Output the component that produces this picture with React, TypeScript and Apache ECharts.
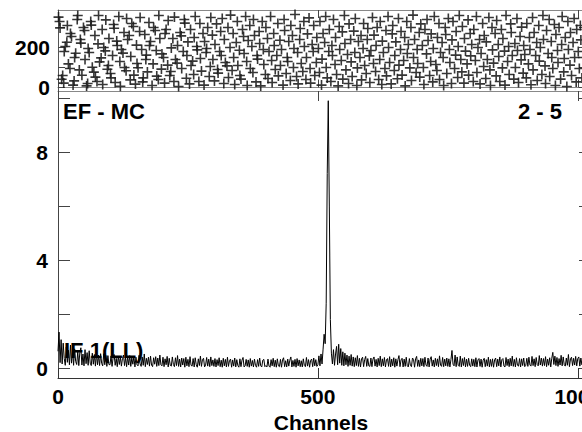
import React, { useEffect, useRef } from "react";
import * as echarts from "echarts";

// Bottom panel: counts per channel (every 2nd channel, starting at channel 0)
const channelStep = 2;
const spectrum = [
  0.62,1.33,0.20,1.05,0.15,0.92,0.35,0.10,0.78,0.21,0.66,0.12,0.85,0.18,0.62,0.10,0.71,0.24,0.13,0.60,0.09,0.58,0.75,0.11,0.52,0.08,0.68,0.16,0.57,0.10,0.64,0.18,0.09,0.55,0.14,0.50,0.07,0.56,0.12,0.48,0.09,0.53,0.17,0.08,0.53,0.12,0.47,0.06,0.46,0.13,
  0.12,0.45,0.06,0.38,0.50,0.10,0.36,0.05,0.44,0.13,0.41,0.07,0.35,0.48,0.09,0.39,0.05,0.42,0.11,0.46,0.06,0.37,0.14,0.43,0.04,0.40,0.12,0.08,0.47,0.15,0.06,0.41,0.10,0.52,0.05,0.36,0.13,0.40,0.07,0.44,0.11,0.05,0.38,0.14,0.42,0.06,0.37,0.09,0.48,0.12,
  0.08,0.40,0.05,0.34,0.12,0.43,0.04,0.36,0.10,0.07,0.41,0.13,0.05,0.38,0.09,0.46,0.06,0.33,0.04,0.37,0.11,0.35,0.03,0.40,0.08,0.32,0.05,0.42,0.10,0.07,0.35,0.04,0.38,0.12,0.03,0.34,0.09,0.44,0.06,0.32,0.36,0.04,0.11,0.39,0.07,0.33,0.05,0.41,0.09,0.30,
  0.06,0.35,0.04,0.31,0.09,0.38,0.05,0.29,0.03,0.36,0.08,0.32,0.04,0.40,0.06,0.28,0.33,0.03,0.30,0.07,0.37,0.04,0.31,0.09,0.03,0.34,0.05,0.29,0.39,0.04,0.08,0.32,0.06,0.30,0.03,0.35,0.07,0.28,0.04,0.33,0.09,0.03,0.31,0.06,0.37,0.08,0.04,0.29,0.32,0.05,
  0.09,0.04,0.33,0.07,0.03,0.31,0.08,0.36,0.05,0.29,0.03,0.34,0.08,0.05,0.32,0.03,0.30,0.38,0.05,0.27,0.04,0.33,0.07,0.29,0.41,0.04,0.28,0.06,0.32,0.03,0.35,0.08,0.30,0.05,0.27,0.04,0.34,0.09,0.05,0.39,0.07,0.31,0.03,0.28,0.33,0.05,0.37,0.08,0.31,0.06,
  0.12,0.45,0.08,0.52,0.15,0.70,1.25,0.90,2.40,7.20,9.90,6.00,1.80,0.55,0.15,0.68,0.10,0.52,0.80,0.12,0.88,0.18,0.72,0.10,0.60,0.08,0.55,0.12,0.48,0.06,0.44,0.10,0.50,0.07,0.41,0.05,0.38,0.09,0.46,0.06,0.36,0.04,0.34,0.40,0.05,0.31,0.43,0.06,0.35,0.08,
  0.06,0.37,0.05,0.33,0.41,0.07,0.32,0.04,0.36,0.09,0.44,0.05,0.34,0.08,0.39,0.04,0.31,0.35,0.06,0.42,0.04,0.33,0.08,0.38,0.03,0.34,0.07,0.31,0.46,0.05,0.30,0.36,0.04,0.33,0.06,0.40,0.08,0.04,0.35,0.10,0.05,0.37,0.32,0.03,0.34,0.43,0.06,0.30,0.05,0.36,
  0.08,0.35,0.05,0.40,0.11,0.06,0.37,0.04,0.33,0.42,0.07,0.30,0.04,0.36,0.09,0.34,0.05,0.45,0.11,0.06,0.39,0.05,0.33,0.08,0.37,0.06,0.34,0.04,0.31,0.65,0.14,0.08,0.48,0.05,0.41,0.10,0.06,0.44,0.04,0.35,0.09,0.39,0.04,0.33,0.06,0.36,0.10,0.05,0.34,0.07,
  0.32,0.05,0.38,0.04,0.30,0.35,0.06,0.33,0.03,0.29,0.36,0.05,0.31,0.07,0.40,0.04,0.32,0.06,0.34,0.03,0.30,0.37,0.05,0.33,0.08,0.41,0.04,0.31,0.35,0.07,0.04,0.39,0.09,0.33,0.05,0.36,0.08,0.44,0.06,0.32,0.04,0.38,0.10,0.07,0.35,0.04,0.34,0.09,0.37,0.05,
  0.10,0.36,0.06,0.40,0.11,0.07,0.43,0.09,0.34,0.05,0.39,0.12,0.08,0.46,0.11,0.37,0.07,0.35,0.09,0.42,0.05,0.33,0.10,0.38,0.04,0.36,0.58,0.13,0.44,0.09,0.39,0.06,0.35,0.11,0.47,0.08,0.41,0.12,0.07,0.37,0.10,0.50,0.05,0.34,0.40,0.09,0.36,0.11,0.43,0.08,
  0.35,0.41,0.07,0.37,0.12,0.39,
];

// Top panel: scatter of "+" markers (channel, value)
const markerChannels = [
  1,3,4,7,9,11,12,14,17,18,20,23,24,26,29,31,32,34,37,38,41,43,44,46,49,51,52,55,57,58,60,63,64,66,69,71,72,75,77,78,80,83,85,86,88,91,92,95,97,98,
  101,102,105,107,108,110,113,114,117,119,120,122,125,127,128,131,132,134,137,139,140,142,145,146,149,151,152,154,157,158,161,163,164,167,169,170,172,175,176,178,181,183,184,187,189,190,193,194,196,199,
  200,203,205,206,208,211,212,215,217,218,221,223,224,226,229,230,232,235,237,238,241,243,244,247,248,250,253,255,256,259,261,262,264,267,268,271,273,274,276,279,281,282,285,286,288,291,293,294,297,298,
  301,302,305,307,308,311,313,314,316,319,320,322,325,327,328,331,332,335,337,338,340,343,345,346,349,350,352,355,357,358,361,363,364,366,369,370,373,375,376,378,381,383,384,387,388,390,393,395,396,399,
  400,403,404,406,409,411,412,415,416,418,421,423,424,427,428,430,433,435,436,439,441,442,444,447,448,451,453,454,456,459,461,462,465,466,468,471,473,474,477,478,480,483,485,486,489,491,492,494,497,498,
  501,503,504,507,508,510,513,515,516,518,521,522,525,527,528,530,533,534,536,539,541,542,545,547,548,551,552,554,557,559,560,563,564,566,569,571,572,575,576,578,581,583,584,587,588,590,593,595,596,599,
  600,602,605,607,608,611,612,614,617,619,620,623,624,626,629,631,632,635,636,638,641,643,644,647,648,650,653,655,656,659,660,662,665,667,668,671,672,674,677,679,680,683,684,686,689,691,692,695,696,698,
  701,703,704,706,709,710,712,715,717,718,721,722,724,727,729,730,733,734,736,739,741,742,745,746,748,751,753,754,757,758,760,763,765,766,769,770,772,775,777,778,781,782,784,787,789,790,793,794,796,799,
  800,803,805,806,808,811,812,814,817,819,820,823,824,826,829,831,832,835,836,838,841,843,844,847,848,850,853,855,856,859,860,862,865,867,868,871,872,874,877,879,880,883,884,886,889,891,892,895,896,898,
  901,902,905,907,908,910,913,914,916,919,921,922,925,926,928,931,933,934,937,938,940,943,945,946,949,950,952,955,957,958,961,962,964,967,969,970,973,974,976,979,981,982,985,986,988,991,993,994,997,998,
  1001,1003,1005,1006,1008,1010,
];
const markerValues = [
  352,330,298,41,60,22,180,205,226,310,118,95,270,255,12,33,150,171,340,360,88,240,222,61,300,285,140,8,20,195,175,330,312,101,77,260,52,30,218,360,128,148,290,15,200,183,338,91,110,245,
  70,48,160,315,296,25,232,210,355,130,6,190,172,275,100,84,345,240,260,38,155,320,305,62,17,212,120,99,280,350,190,28,48,265,140,162,78,325,210,230,10,118,300,285,185,57,40,360,245,92,
  168,150,22,270,290,112,335,60,80,198,245,30,352,140,122,210,5,275,258,95,180,340,322,46,160,228,18,290,110,132,65,250,355,205,188,30,320,145,82,270,12,230,175,195,300,55,105,350,262,140,
  33,215,318,90,72,180,280,160,345,20,240,125,108,300,50,200,362,85,270,150,15,225,330,110,186,60,42,290,255,170,355,130,10,235,310,95,205,75,340,260,28,160,142,280,220,8,330,190,115,65,
  300,245,45,180,355,135,25,270,210,90,160,320,58,236,110,190,12,340,285,70,150,130,230,35,310,260,100,195,365,55,175,18,240,295,120,80,330,205,40,150,268,348,95,22,215,180,310,60,125,250,
  195,75,330,12,142,270,225,355,100,48,180,290,30,210,160,340,115,250,65,8,305,190,135,278,42,360,220,88,165,20,318,240,128,55,282,175,345,10,98,230,150,260,38,195,320,110,70,240,295,158,
  25,185,350,120,262,80,210,300,40,140,330,15,232,175,95,285,58,355,200,125,18,268,310,85,160,228,44,345,112,190,280,62,135,250,8,330,170,215,98,300,35,362,150,240,75,190,120,275,52,318,
  210,100,15,290,168,340,235,60,130,268,28,195,355,115,85,250,320,40,175,225,150,10,300,265,70,345,190,125,20,238,330,95,162,280,50,205,360,140,78,305,22,245,182,118,338,62,270,158,215,30,
  290,135,355,75,200,240,18,170,320,105,260,45,228,140,350,88,10,300,188,122,270,58,335,215,155,30,290,98,245,182,12,360,130,205,65,318,275,160,42,220,100,345,185,25,255,138,302,72,210,165,
  48,320,118,250,190,14,350,88,275,160,225,35,310,132,200,65,360,240,108,20,285,170,340,55,230,150,95,315,10,265,185,125,300,42,215,355,78,145,250,5,330,190,112,275,60,225,345,150,28,290,
  180,95,310,238,48,150,
];

const xTickValues = [0, 500, 1000];
const topYTicks = [0, 100, 200, 300];
const topYLabels = [0, 200];
const bottomYTicks = [0, 2, 4, 6, 8, 10];
const bottomYLabels = [0, 4, 8];
const xAxisName = "Channels";
const panelTitle = "EF - MC";
const rangeText = "2 - 5";
const detectorText = "IF 1(LL)";

const FONT = "'Liberation Sans', Arial, Helvetica, sans-serif";

export default function App() {
  const ref = useRef<HTMLDivElement>(null);
  useEffect(() => {
    if (!ref.current) return;
    const chart = echarts.init(ref.current, undefined, { renderer: "svg" });
    const n = Math.min(markerChannels.length, markerValues.length);
    const markers: number[][] = [];
    for (let i = 0; i < n; i++) markers.push([markerChannels[i], markerValues[i]]);
    const line = spectrum.map((v, i) => [i * channelStep, v]);

    const labelStyle = { fontFamily: FONT, fontWeight: "bold" as const, fontSize: 21, color: "#000" };
    const baseX = { type: "value" as const, min: 0, max: 1012, interval: 500, splitLine: { show: false } };
    const topRange = { min: -17.5, max: 387.5 };
    const botRange = { min: -0.37, max: 10.26 };
    const fmt = (v: number) => String(v);

    chart.setOption({
      animation: false,
      backgroundColor: "#fff",
      grid: [
        { left: 58, top: 10, width: 526, height: 81, containLabel: false, outerBoundsMode: "none" },
        { left: 58, top: 91, width: 526, height: 287, containLabel: false, outerBoundsMode: "none" },
      ],
      xAxis: [
        { ...baseX, gridIndex: 0, position: "bottom", axisLine: { onZero: true, lineStyle: { color: "#888" } }, axisTick: { inside: true, length: 8, lineStyle: { color: "#444" } }, axisLabel: { show: false } },
        { ...baseX, gridIndex: 0, position: "top", axisLine: { onZero: false, lineStyle: { color: "#888" } }, axisTick: { inside: true, length: 8, lineStyle: { color: "#444" } }, axisLabel: { show: false } },
        { ...baseX, gridIndex: 1, position: "top", axisLine: { onZero: false, lineStyle: { color: "#888" } }, axisTick: { inside: true, length: 10, lineStyle: { color: "#444" } }, axisLabel: { show: false } },
        {
          ...baseX, gridIndex: 1, position: "bottom",
          axisLine: { onZero: false, lineStyle: { color: "#333" } },
          axisTick: { inside: true, length: 10, lineStyle: { color: "#333" } },
          axisLabel: { ...labelStyle, margin: 8, customValues: xTickValues, formatter: fmt, hideOverlap: false },
          name: xAxisName, nameLocation: "middle", nameGap: 30,
          nameTextStyle: { ...labelStyle, lineHeight: 21 },
        },
      ],
      yAxis: [
        {
          type: "value", gridIndex: 0, position: "left", ...topRange, splitLine: { show: false },
          axisLine: { show: true, onZero: false, lineStyle: { color: "#555" } },
          axisTick: { inside: true, length: 7, customValues: topYTicks, lineStyle: { color: "#444" } },
          axisLabel: { ...labelStyle, margin: 8, customValues: topYLabels, formatter: fmt },
        },
        {
          type: "value", gridIndex: 0, position: "right", ...topRange, splitLine: { show: false },
          axisLine: { show: true, onZero: false, lineStyle: { color: "#555" } },
          axisTick: { inside: true, length: 5, customValues: topYTicks, lineStyle: { color: "#444" } },
          axisLabel: { show: false },
        },
        {
          type: "value", gridIndex: 1, position: "left", ...botRange, splitLine: { show: false },
          axisLine: { show: true, onZero: false, lineStyle: { color: "#444" } },
          axisTick: { inside: true, length: 12, customValues: bottomYTicks, lineStyle: { color: "#444" } },
          axisLabel: { ...labelStyle, margin: 10, customValues: bottomYLabels, formatter: fmt },
        },
        {
          type: "value", gridIndex: 1, position: "right", ...botRange, splitLine: { show: false },
          axisLine: { show: true, onZero: false, lineStyle: { color: "#444" } },
          axisTick: { inside: true, length: 5, customValues: bottomYTicks, lineStyle: { color: "#444" } },
          axisLabel: { show: false },
        },
      ],
      series: [
        {
          type: "scatter", xAxisIndex: 0, yAxisIndex: 0, data: markers,
          symbol: "path://M4.2,0H5.8V4.2H10V5.8H5.8V10H4.2V5.8H0V4.2H4.2Z",
          symbolSize: 10, itemStyle: { color: "#1a1a1a", opacity: 0.88 }, clip: true,
        },
        {
          type: "line", xAxisIndex: 3, yAxisIndex: 2, data: line, showSymbol: false, symbol: "none",
          lineStyle: { color: "#000", width: 1 }, z: 5,
        },
      ],
      graphic: [
        { type: "text", left: 63, top: 100, z: 1, style: { text: panelTitle, font: `bold 22px ${FONT}`, fill: "#000" } },
        { type: "text", right: 20, top: 100, z: 1, style: { text: rangeText, font: `bold 22px ${FONT}`, fill: "#000" } },
        { type: "text", left: 64, top: 339, z: 1, style: { text: detectorText, font: `bold 22px ${FONT}`, fill: "#000" } },
      ],
    });
    return () => chart.dispose();
  }, []);
  return <div ref={ref} style={{ position: "absolute", left: 0, top: 0, width: 582, height: 432 }} />;
}
